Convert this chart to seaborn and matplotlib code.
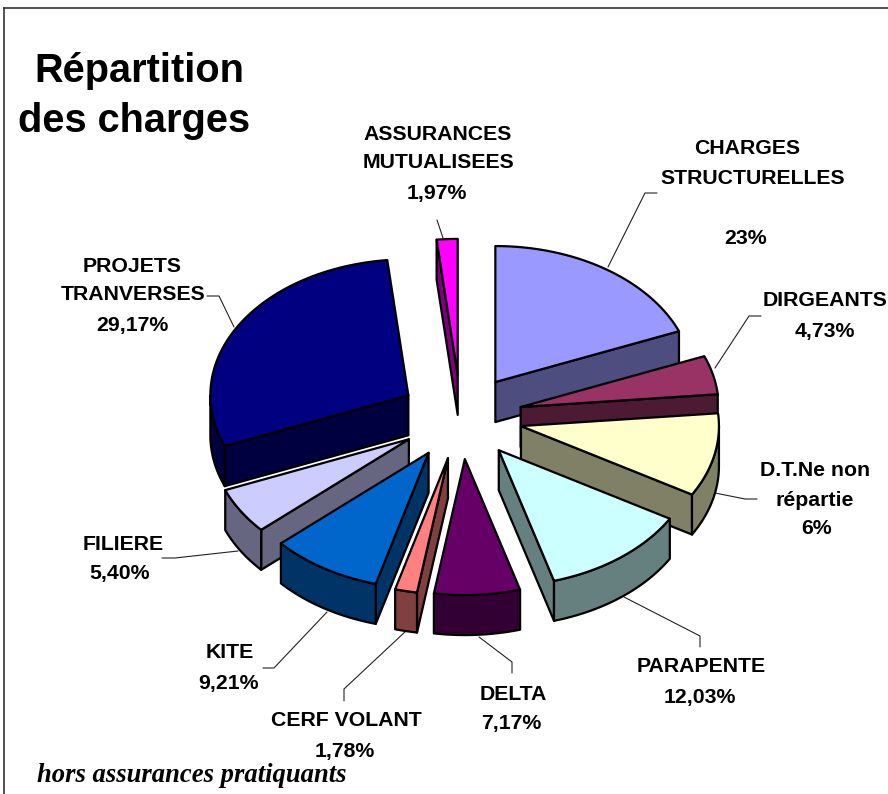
import numpy as np
import matplotlib
matplotlib.use("Agg")
import matplotlib.pyplot as plt
import seaborn as sns

# ---- data: slice order clockwise from 12 o'clock
names = ["CHARGES STRUCTURELLES", "DIRGEANTS", "D.T.Ne non répartie", "PARAPENTE", "DELTA",
         "CERF VOLANT", "KITE", "FILIERE", "PROJETS TRANVERSES", "ASSURANCES MUTUALISEES"]
# printed labels of the reference
printed = ["23%", "4,73%", "6%", "12,03%", "7,17%", "1,78%", "9,21%", "5,40%", "29,17%", "1,97%"]
# share of the drawn pie
shares = [18.9, 4.6, 9.9, 12.1, 7.0, 1.8, 9.1, 5.5, 29.4, 1.7]
top_hex = ["#9999FF", "#993366", "#FFFFCC", "#CCFFFF", "#660066",
           "#FF8080", "#0066CC", "#CCCCFF", "#000080", "#FF00FF"]

# ---- layout
CX, CY, RX, RY, DEPTH, EXPLODE = 461, 417, 198, 136, 40, 0.31
label_lines = [
    (747, 149, "CHARGES"), (753, 178, "STRUCTURELLES"), (746, 239, printed[0]),
    (825, 301, "DIRGEANTS"), (825, 331, printed[1]),
    (815, 470, "D.T.Ne non"), (815, 500, "répartie"), (817, 529, printed[2]),
    (701, 667, "PARAPENTE"), (700, 698, printed[3]),
    (513, 694, "DELTA"), (511, 724, printed[4]),
    (346, 721, "CERF VOLANT"), (345, 751, printed[5]),
    (230, 653, "KITE"), (228, 683, printed[6]),
    (123, 544, "FILIERE"), (120, 574, printed[7]),
    (132, 266, "PROJETS"), (133, 295, "TRANVERSES"), (132, 326, printed[8]),
    (438, 134, "ASSURANCES"), (438, 163, "MUTUALISEES"), (437, 193, printed[9]),
]
leaders = [
    [(608, 267), (645, 193), (657, 193)],
    [(715, 368), (749, 316), (761, 316)],
    [(715, 493), (745, 499), (757, 499)],
    [(624, 597), (700, 636), (700, 647)],
    [(479, 637), (512, 662), (512, 673)],
    [(406, 631), (344, 689), (344, 701)],
    [(327, 612), (274, 668), (263, 668)],
    [(238, 551), (175, 558), (162, 558)],
    [(234, 327), (219, 296), (207, 296)],
    [(443, 238), (437, 220)],
]

sns.set_theme(style="white")
plt.rcParams["font.family"] = ["Liberation Sans", "DejaVu Sans"]
palette = sns.color_palette(top_hex)
side_palette = [tuple(c * 0.5 for c in col) for col in palette]

fig = plt.figure(figsize=(8.88, 7.94), dpi=100, facecolor="white")
ax = fig.add_axes([0, 0, 1, 1])
ax.set_xlim(0, 888)
ax.set_ylim(794, 0)
ax.axis("off")

# frame runs past the right and bottom edges of the picture
ax.plot([4, 4], [794, 8], color="#333333", lw=1.2, solid_capstyle="projecting")
ax.plot([4, 888], [8, 8], color="#333333", lw=1.2, solid_capstyle="projecting")

angles = np.deg2rad(np.concatenate([[0], np.cumsum(shares)]) / np.sum(shares) * 360)


def project(t, ax0, ay0):
    return ax0 + RX * np.sin(t), ay0 - RY * np.cos(t)


slices = []
for i, (t0, t1) in enumerate(zip(angles[:-1], angles[1:])):
    tm = (t0 + t1) / 2
    apex_x = CX + EXPLODE * RX * np.sin(tm)
    apex_y = CY - EXPLODE * RY * np.cos(tm)
    slices.append((apex_y, i, t0, t1, apex_x))

edge = dict(edgecolor="black", linewidth=1.6, joinstyle="round")
# painter's order: from the far side of the pie to the near side
for z, (apex_y, i, t0, t1, apex_x) in enumerate(sorted(slices)):
    side = side_palette[i]
    zo = 3 + z
    # radial walls that face the viewer
    for t, visible in ((t0, np.sin(t0) < -1e-6), (t1, np.sin(t1) > 1e-6)):
        if visible:
            ex, ey = project(t, apex_x, apex_y)
            ax.fill([apex_x, ex, ex, apex_x], [apex_y, ey, ey + DEPTH, apex_y + DEPTH],
                    facecolor=side, zorder=zo, **edge)
    # outer rim, only on the near half
    lo, hi = max(t0, np.pi / 2), min(t1, 3 * np.pi / 2)
    if hi > lo:
        ts = np.linspace(lo, hi, 60)
        rx_, ry_ = project(ts, apex_x, apex_y)
        ax.fill(np.r_[rx_, rx_[::-1]], np.r_[ry_, ry_[::-1] + DEPTH],
                facecolor=side, zorder=zo, **edge)
    # top face
    ts = np.linspace(t0, t1, 120)
    ax_, ay_ = project(ts, apex_x, apex_y)
    ax.fill(np.r_[apex_x, ax_], np.r_[apex_y, ay_], facecolor=palette[i], zorder=zo, **edge)

for pts in leaders:
    xs, ys = zip(*pts)
    ax.plot(xs, ys, color="#222222", lw=0.8, zorder=2)

for x, y, s in label_lines:
    ax.text(x, y, s, ha="center", va="center", fontsize=15.3, fontweight="bold",
            color="black", zorder=30, clip_on=False)

ax.text(139, 71, "Répartition", ha="center", va="center", fontsize=28.6, fontweight="bold", color="black")
ax.text(134, 121, "des charges", ha="center", va="center", fontsize=28.6, fontweight="bold", color="black")
ax.text(37, 775, "hors assurances pratiquants", ha="left", va="center", fontsize=19.2,
        family=["Liberation Serif"], style="italic", fontweight="bold", color="black", zorder=31)

fig.savefig("out.png", dpi=100, facecolor="white")
